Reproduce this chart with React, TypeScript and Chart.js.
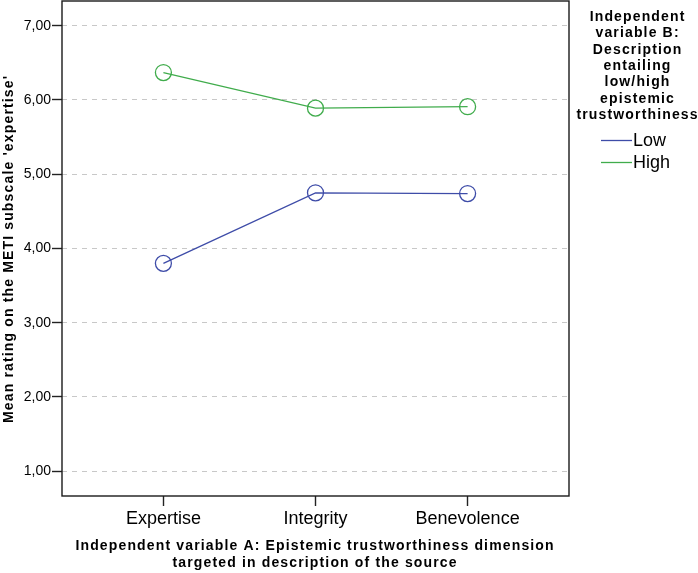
import { useEffect, useRef } from 'react';
import { Chart, registerables } from 'chart.js';

Chart.register(...registerables);

const categories = ['Expertise', 'Integrity', 'Benevolence'];
const seriesNames = ['Low', 'High'];
const lowValues = [3.8, 4.75, 4.74];
const highValues = [6.37, 5.89, 5.91];
const seriesColors = ['rgb(62,76,168)', 'rgb(64,172,76)'];
const yTickValues = [1, 2, 3, 4, 5, 6, 7];
const xAxisTitle = [
  'Independent variable A: Epistemic trustworthiness dimension',
  'targeted in description of the source',
];
const yAxisTitle = "Mean rating on the METI subscale 'expertise'";
const legendTitle = [
  'Independent',
  'variable B:',
  'Description',
  'entailing',
  'low/high',
  'epistemic',
  'trustworthiness',
];

const FAMILY = '"Liberation Sans", Arial, sans-serif';

const textPlugin = {
  id: 'customText',
  afterDraw(chart: any) {
    const { ctx, chartArea } = chart;
    ctx.save();
    // frame
    ctx.strokeStyle = '#1a1a1a';
    ctx.lineWidth = 1.4;
    ctx.strokeRect(chartArea.left, chartArea.top, chartArea.right - chartArea.left, chartArea.bottom - chartArea.top);

    const sp = 1.15;
    (ctx as any).letterSpacing = sp + 'px';
    ctx.fillStyle = '#000';
    ctx.font = 'bold 14px ' + FAMILY;
    ctx.textAlign = 'center';
    ctx.textBaseline = 'middle';

    // x axis title
    const cx = (chartArea.left + chartArea.right) / 2 + sp / 2;
    xAxisTitle.forEach((t, i) => {
      ctx.fillText(t, cx - 1, 546 + i * 17);
    });

    // y axis title
    ctx.save();
    ctx.translate(9, (chartArea.top + chartArea.bottom) / 2 + 1);
    ctx.rotate(-Math.PI / 2);
    ctx.fillText(yAxisTitle, sp / 2, 0);
    ctx.restore();

    // legend title
    legendTitle.forEach((t, i) => {
      ctx.fillText(t, 637 + sp / 2, 17 + i * 16.4);
    });

    // legend items
    (ctx as any).letterSpacing = '0px';
    ctx.font = '18px ' + FAMILY;
    ctx.textAlign = 'left';
    chart.data.datasets.forEach((ds: any, i: number) => {
      const y = 140.5 + i * 22;
      ctx.strokeStyle = ds.borderColor;
      ctx.lineWidth = 1.3;
      ctx.beginPath();
      ctx.moveTo(601, y);
      ctx.lineTo(632, y);
      ctx.stroke();
      ctx.fillText(ds.label, 633, y + 1);
    });
    ctx.restore();
  },
};

export default function App() {
  const ref = useRef<HTMLCanvasElement | null>(null);

  useEffect(() => {
    if (!ref.current) return;
    const values = [lowValues, highValues];
    const chart = new Chart(ref.current, {
      type: 'line',
      data: {
        datasets: seriesNames.map((name, s) => ({
          label: name,
          data: values[s].map((v, i) => ({ x: i, y: v })),
          borderColor: seriesColors[s],
          backgroundColor: 'transparent',
          borderWidth: 1.3,
          pointRadius: 8,
          pointHoverRadius: 8,
          pointBorderWidth: 1.3,
          pointBackgroundColor: 'transparent',
          pointBorderColor: seriesColors[s],
          tension: 0,
        })),
      },
      options: {
        animation: false,
        responsive: false,
        events: [],
        layout: { autoPadding: false, padding: { left: 0, top: 1, right: 129, bottom: 0 } },
        plugins: {
          legend: { display: false },
          tooltip: { enabled: false },
          title: { display: false },
        },
        scales: {
          x: {
            type: 'linear',
            min: -2 / 3,
            max: 8 / 3,
            afterBuildTicks: (scale: any) => {
              scale.ticks = categories.map((_, i) => ({ value: i }));
            },
            afterFit: (scale: any) => {
              scale.height = 77;
              scale.paddingLeft = 0;
              scale.paddingRight = 0;
            },
            ticks: {
              autoSkip: false,
              maxRotation: 0,
              padding: 2,
              color: '#000',
              font: { family: FAMILY, size: 18 },
              callback: (v: any) => categories[v] ?? '',
            },
            grid: {
              drawOnChartArea: false,
              drawTicks: true,
              tickLength: 10,
              tickColor: '#222',
              tickWidth: 1.4,
            },
            border: { display: false },
          },
          y: {
            type: 'linear',
            min: 2 / 3,
            max: 22 / 3,
            afterBuildTicks: (scale: any) => {
              scale.ticks = yTickValues.map((v) => ({ value: v }));
            },
            afterFit: (scale: any) => {
              scale.width = 62;
              scale.paddingTop = 0;
              scale.paddingBottom = 0;
            },
            ticks: {
              autoSkip: false,
              padding: 1,
              color: '#000',
              font: { family: FAMILY, size: 14 },
              callback: (v: any) => Number(v).toFixed(2).replace('.', ','),
            },
            grid: {
              drawOnChartArea: true,
              drawTicks: true,
              tickLength: 10,
              color: '#c8c8c8',
              lineWidth: 1,
              tickColor: '#222',
              tickWidth: 1.4,
              tickBorderDash: [],
            },
            border: { display: false, dash: [5, 5] },
          },
        },
      },
      plugins: [textPlugin],
    });
    return () => chart.destroy();
  }, []);

  return (
    <canvas
      ref={ref}
      width={698}
      height={573}
      style={{ position: 'absolute', left: 0, top: 0, display: 'block' }}
    />
  );
}
